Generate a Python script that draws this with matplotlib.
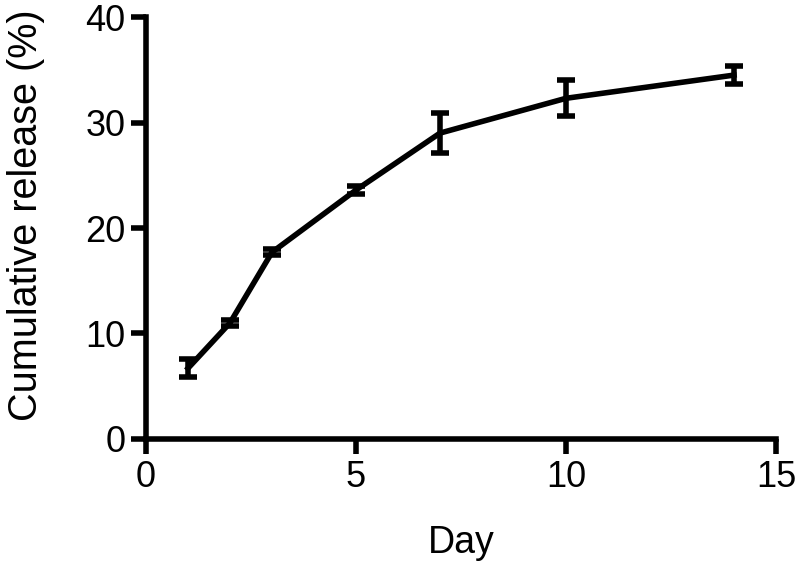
import matplotlib.pyplot as plt
import numpy as np

plt.rcParams['font.family'] = ['Liberation Sans', 'DejaVu Sans']

days = [1, 2, 3, 5, 7, 10, 14]
release = [6.7, 11.0, 17.7, 23.6, 29.0, 32.3, 34.5]
release_sd = [0.85, 0.3, 0.3, 0.4, 1.9, 1.7, 0.85]

fig = plt.figure(figsize=(8, 5.7), dpi=100)
ax = fig.add_axes([0.1825, 0.23, 0.7875, 0.74])

ax.errorbar(days, release, yerr=release_sd, color='black', lw=4,
            elinewidth=4, capsize=6.5, capthick=4, clip_on=False)

ax.set_xlim(0, 15)
ax.set_ylim(0, 40)
ax.set_xticks([0, 5, 10, 15])
ax.set_yticks([0, 10, 20, 30, 40])
ax.set_xlabel('Day', fontsize=27, labelpad=22)
ax.set_ylabel('Cumulative release (%)', fontsize=28.5)
ax.yaxis.set_label_coords(-0.16, 0.53)

for side in ['top', 'right']:
    ax.spines[side].set_visible(False)
for side in ['left', 'bottom']:
    ax.spines[side].set_linewidth(4)
ax.tick_params(width=4, length=11, labelsize=26, pad=4)

fig.savefig('out.png', dpi=100)
